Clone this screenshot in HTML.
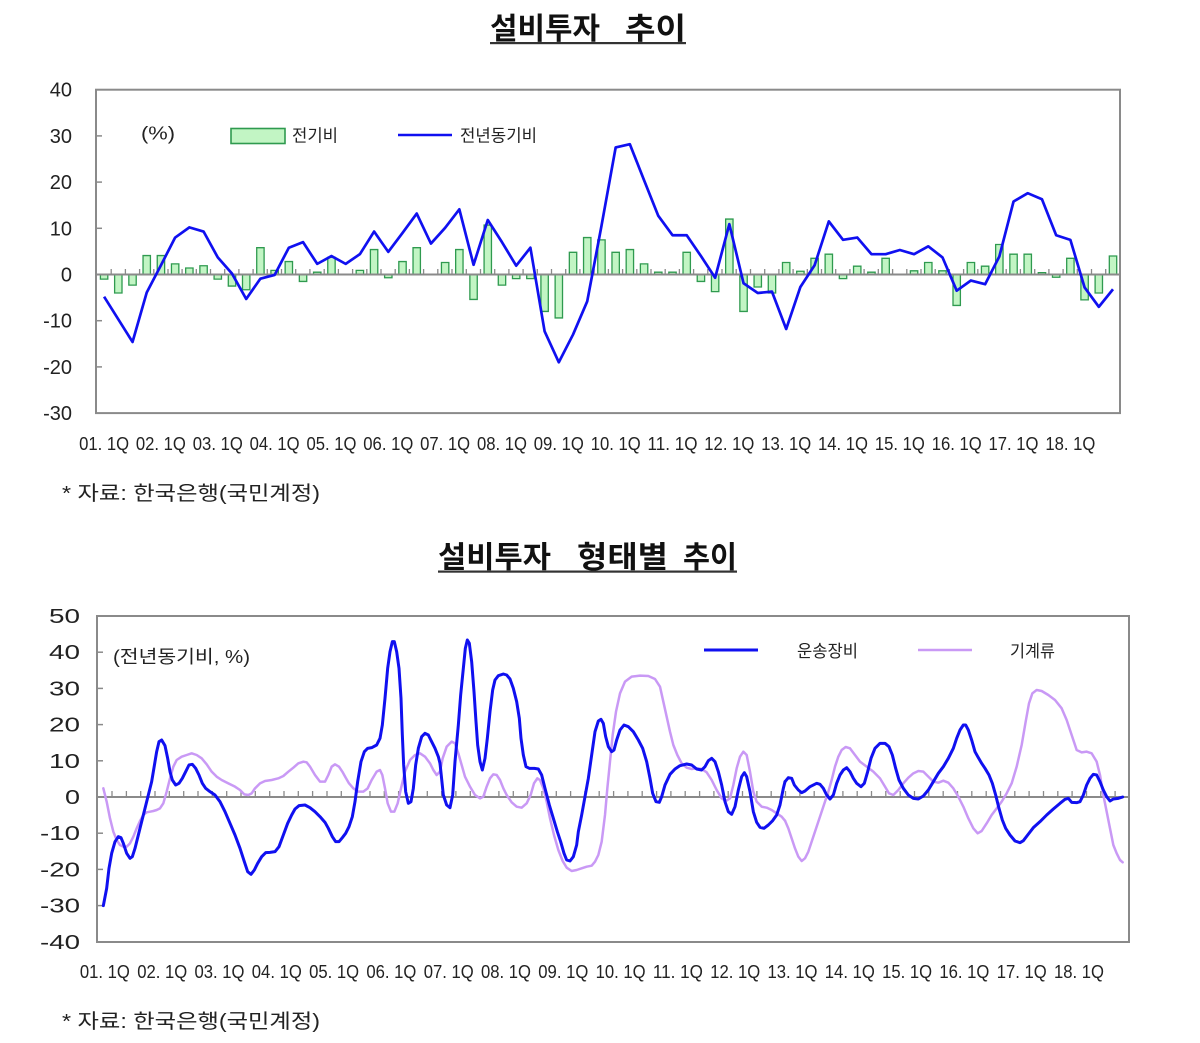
<!DOCTYPE html>
<html>
<head>
<meta charset="utf-8">
<style>
html,body{margin:0;padding:0;background:#fff;}
body{width:1200px;height:1043px;overflow:hidden;}
svg{display:block;}
text{font-family:"Liberation Sans","Noto Sans CJK KR",sans-serif;fill:#222;}
.kr{font-family:"Liberation Sans","Noto Sans CJK KR",sans-serif;}
.t{font-weight:bold;fill:#111;}
.nv{vector-effect:non-scaling-stroke;}
</style>
</head>
<body>
<svg width="1200" height="1043" viewBox="0 0 1200 1043" xmlns="http://www.w3.org/2000/svg">
<rect x="0" y="0" width="1200" height="1043" fill="#fff"/>

<!-- ===== TOP CHART ===== -->
<text class="t kr" x="490" y="39" font-size="30" textLength="110" lengthAdjust="spacingAndGlyphs">설비투자</text>
<text class="t kr" x="625" y="39" font-size="30" textLength="61" lengthAdjust="spacingAndGlyphs">추이</text>
<rect x="490" y="42" width="196" height="2.2" fill="#333"/>

<!-- box -->
<rect x="96" y="89.7" width="1024" height="323.4" fill="none" stroke="#8a8a8a" stroke-width="2"/>

<!-- y labels -->
<g font-size="20" text-anchor="end">
<text x="72" y="96.7">40</text>
<text x="72" y="142.9">30</text>
<text x="72" y="189.1">20</text>
<text x="72" y="235.3">10</text>
<text x="72" y="281.5">0</text>
<text x="72" y="327.7">-10</text>
<text x="72" y="373.9">-20</text>
<text x="72" y="420.1">-30</text>
</g>
<!-- y ticks -->
<g stroke="#8a8a8a" stroke-width="1.5">
<line x1="96" y1="135.9" x2="102" y2="135.9"/>
<line x1="96" y1="182.1" x2="102" y2="182.1"/>
<line x1="96" y1="228.3" x2="102" y2="228.3"/>
<line x1="96" y1="320.7" x2="102" y2="320.7"/>
<line x1="96" y1="366.9" x2="102" y2="366.9"/>
</g>

<!-- legend -->
<text x="141" y="139.5" font-size="18" textLength="34" lengthAdjust="spacingAndGlyphs">(%)</text>
<rect x="231" y="128.5" width="54" height="15" fill="#c2f5c4" stroke="#2f9a4f" stroke-width="1.6"/>
<text class="kr" x="292" y="141.5" font-size="17" textLength="46" lengthAdjust="spacingAndGlyphs">전기비</text>
<line x1="398" y1="135" x2="452" y2="135" stroke="#1010f0" stroke-width="2.6"/>
<text class="kr" x="460" y="141.5" font-size="17" textLength="77" lengthAdjust="spacingAndGlyphs">전년동기비</text>

<!-- bars -->
<g transform="translate(104.1 274.5) scale(14.21 -4.62)" fill="#c2f5c4" stroke="#2f9a4f">
<rect class="nv" stroke-width="1.3" x="-0.26" y="-1" width="0.52" height="1"/>
<rect class="nv" stroke-width="1.3" x="0.74" y="-4" width="0.52" height="4"/>
<rect class="nv" stroke-width="1.3" x="1.74" y="-2.3" width="0.52" height="2.3"/>
<rect class="nv" stroke-width="1.3" x="2.74" y="0" width="0.52" height="4.1"/>
<rect class="nv" stroke-width="1.3" x="3.74" y="0" width="0.52" height="4.1"/>
<rect class="nv" stroke-width="1.3" x="4.74" y="0" width="0.52" height="2.3"/>
<rect class="nv" stroke-width="1.3" x="5.74" y="0" width="0.52" height="1.4"/>
<rect class="nv" stroke-width="1.3" x="6.74" y="0" width="0.52" height="1.9"/>
<rect class="nv" stroke-width="1.3" x="7.74" y="-1" width="0.52" height="1"/>
<rect class="nv" stroke-width="1.3" x="8.74" y="-2.5" width="0.52" height="2.5"/>
<rect class="nv" stroke-width="1.3" x="9.74" y="-3.3" width="0.52" height="3.3"/>
<rect class="nv" stroke-width="1.3" x="10.74" y="0" width="0.52" height="5.8"/>
<rect class="nv" stroke-width="1.3" x="11.74" y="0" width="0.52" height="0.9"/>
<rect class="nv" stroke-width="1.3" x="12.74" y="0" width="0.52" height="2.8"/>
<rect class="nv" stroke-width="1.3" x="13.74" y="-1.5" width="0.52" height="1.5"/>
<rect class="nv" stroke-width="1.3" x="14.74" y="0" width="0.52" height="0.5"/>
<rect class="nv" stroke-width="1.3" x="15.74" y="0" width="0.52" height="3.7"/>
<rect class="nv" stroke-width="1.3" x="17.74" y="0" width="0.52" height="0.9"/>
<rect class="nv" stroke-width="1.3" x="18.74" y="0" width="0.52" height="5.4"/>
<rect class="nv" stroke-width="1.3" x="19.74" y="-0.7" width="0.52" height="0.7"/>
<rect class="nv" stroke-width="1.3" x="20.74" y="0" width="0.52" height="2.8"/>
<rect class="nv" stroke-width="1.3" x="21.74" y="0" width="0.52" height="5.8"/>
<rect class="nv" stroke-width="1.3" x="23.74" y="0" width="0.52" height="2.6"/>
<rect class="nv" stroke-width="1.3" x="24.74" y="0" width="0.52" height="5.4"/>
<rect class="nv" stroke-width="1.3" x="25.74" y="-5.4" width="0.52" height="5.4"/>
<rect class="nv" stroke-width="1.3" x="26.74" y="0" width="0.52" height="10.7"/>
<rect class="nv" stroke-width="1.3" x="27.74" y="-2.3" width="0.52" height="2.3"/>
<rect class="nv" stroke-width="1.3" x="28.74" y="-0.9" width="0.52" height="0.9"/>
<rect class="nv" stroke-width="1.3" x="29.74" y="-0.9" width="0.52" height="0.9"/>
<rect class="nv" stroke-width="1.3" x="30.74" y="-8" width="0.52" height="8"/>
<rect class="nv" stroke-width="1.3" x="31.74" y="-9.4" width="0.52" height="9.4"/>
<rect class="nv" stroke-width="1.3" x="32.74" y="0" width="0.52" height="4.8"/>
<rect class="nv" stroke-width="1.3" x="33.74" y="0" width="0.52" height="8"/>
<rect class="nv" stroke-width="1.3" x="34.74" y="0" width="0.52" height="7.5"/>
<rect class="nv" stroke-width="1.3" x="35.74" y="0" width="0.52" height="4.8"/>
<rect class="nv" stroke-width="1.3" x="36.74" y="0" width="0.52" height="5.4"/>
<rect class="nv" stroke-width="1.3" x="37.74" y="0" width="0.52" height="2.3"/>
<rect class="nv" stroke-width="1.3" x="38.74" y="0" width="0.52" height="0.5"/>
<rect class="nv" stroke-width="1.3" x="39.74" y="0" width="0.52" height="0.5"/>
<rect class="nv" stroke-width="1.3" x="40.74" y="0" width="0.52" height="4.8"/>
<rect class="nv" stroke-width="1.3" x="41.74" y="-1.5" width="0.52" height="1.5"/>
<rect class="nv" stroke-width="1.3" x="42.74" y="-3.7" width="0.52" height="3.7"/>
<rect class="nv" stroke-width="1.3" x="43.74" y="0" width="0.52" height="12"/>
<rect class="nv" stroke-width="1.3" x="44.74" y="-8" width="0.52" height="8"/>
<rect class="nv" stroke-width="1.3" x="45.74" y="-2.7" width="0.52" height="2.7"/>
<rect class="nv" stroke-width="1.3" x="46.74" y="-4" width="0.52" height="4"/>
<rect class="nv" stroke-width="1.3" x="47.74" y="0" width="0.52" height="2.6"/>
<rect class="nv" stroke-width="1.3" x="48.74" y="0" width="0.52" height="0.7"/>
<rect class="nv" stroke-width="1.3" x="49.74" y="0" width="0.52" height="3.5"/>
<rect class="nv" stroke-width="1.3" x="50.74" y="0" width="0.52" height="4.4"/>
<rect class="nv" stroke-width="1.3" x="51.74" y="-0.9" width="0.52" height="0.9"/>
<rect class="nv" stroke-width="1.3" x="52.74" y="0" width="0.52" height="1.8"/>
<rect class="nv" stroke-width="1.3" x="53.74" y="0" width="0.52" height="0.5"/>
<rect class="nv" stroke-width="1.3" x="54.74" y="0" width="0.52" height="3.5"/>
<rect class="nv" stroke-width="1.3" x="56.74" y="0" width="0.52" height="0.8"/>
<rect class="nv" stroke-width="1.3" x="57.74" y="0" width="0.52" height="2.6"/>
<rect class="nv" stroke-width="1.3" x="58.74" y="0" width="0.52" height="0.8"/>
<rect class="nv" stroke-width="1.3" x="59.74" y="-6.7" width="0.52" height="6.7"/>
<rect class="nv" stroke-width="1.3" x="60.74" y="0" width="0.52" height="2.6"/>
<rect class="nv" stroke-width="1.3" x="61.74" y="0" width="0.52" height="1.8"/>
<rect class="nv" stroke-width="1.3" x="62.74" y="0" width="0.52" height="6.5"/>
<rect class="nv" stroke-width="1.3" x="63.74" y="0" width="0.52" height="4.4"/>
<rect class="nv" stroke-width="1.3" x="64.74" y="0" width="0.52" height="4.4"/>
<rect class="nv" stroke-width="1.3" x="65.74" y="0" width="0.52" height="0.4"/>
<rect class="nv" stroke-width="1.3" x="66.74" y="-0.6" width="0.52" height="0.6"/>
<rect class="nv" stroke-width="1.3" x="67.74" y="0" width="0.52" height="3.5"/>
<rect class="nv" stroke-width="1.3" x="68.74" y="-5.5" width="0.52" height="5.5"/>
<rect class="nv" stroke-width="1.3" x="69.74" y="-4" width="0.52" height="4"/>
<rect class="nv" stroke-width="1.3" x="70.74" y="0" width="0.52" height="4"/>
</g>

<!-- zero axis + category ticks -->
<line x1="96" y1="274.5" x2="1120" y2="274.5" stroke="#8a8a8a" stroke-width="2"/>
<path stroke="#8a8a8a" stroke-width="1.3" fill="none" d="M111.2 274.5V269M125.4 274.5V269M139.6 274.5V269M153.8 274.5V269M168 274.5V269M182.1 274.5V269M196.3 274.5V269M210.5 274.5V269M224.7 274.5V269M238.9 274.5V269M253.1 274.5V269M267.3 274.5V269M281.5 274.5V269M295.7 274.5V269M309.9 274.5V269M324.2 274.5V269M338.4 274.5V269M352.6 274.5V269M366.8 274.5V269M381 274.5V269M395.2 274.5V269M409.4 274.5V269M423.6 274.5V269M437.8 274.5V269M452 274.5V269M466.3 274.5V269M480.5 274.5V269M494.7 274.5V269M508.9 274.5V269M523.1 274.5V269M537.3 274.5V269M551.5 274.5V269M565.7 274.5V269M579.9 274.5V269M594.1 274.5V269M608.4 274.5V269M622.6 274.5V269M636.8 274.5V269M651 274.5V269M665.2 274.5V269M679.4 274.5V269M693.6 274.5V269M707.8 274.5V269M722 274.5V269M736.2 274.5V269M750.5 274.5V269M764.7 274.5V269M778.9 274.5V269M793.1 274.5V269M807.3 274.5V269M821.5 274.5V269M835.7 274.5V269M849.9 274.5V269M864.1 274.5V269M878.3 274.5V269M892.6 274.5V269M906.8 274.5V269M921 274.5V269M935.2 274.5V269M949.4 274.5V269M963.6 274.5V269M977.8 274.5V269M992 274.5V269M1006.2 274.5V269M1020.4 274.5V269M1034.7 274.5V269M1048.9 274.5V269M1063.1 274.5V269M1077.3 274.5V269M1091.5 274.5V269M1105.7 274.5V269"/>

<!-- YoY line -->
<g transform="translate(104.1 274.5) scale(14.21 -4.62)">
<polyline class="nv" fill="none" stroke="#1010f0" stroke-width="2.7" stroke-linejoin="round" points="0,-4.8 1,-9.7 2,-14.6 3,-3.9 4,2 5,8 6,10.2 7,9.3 8,3.7 9,0.2 10,-5.3 11,-0.9 12,-0.1 13,5.8 14,7 15,2.3 16,4 17,2.3 18,4.4 19,9.3 20,4.9 21,9 22,13.2 23,6.7 24,10.1 25,14.1 26,2.1 27,11.8 28,7 29,1.9 30,5.8 31,-12.3 32,-19 33,-13 34,-5.8 35,10.5 36,27.5 37,28.2 38,20.4 39,12.7 40,8.5 41,8.5 42,4 43,-0.7 44,10.9 45,-1.9 46,-4 47,-3.7 48,-11.8 49,-2.7 50,2 51,11.5 52,7.5 53,8 54,4.4 55,4.4 56,5.3 57,4.4 58,6.1 59,3.7 60,-3.5 61,-1.3 62,-2.1 63,3.9 64,15.8 65,17.6 66,16.3 67,8.5 68,7.5 69,-2.8 70,-7 71,-3.2"/>
</g>

<!-- x labels -->
<g font-size="18" text-anchor="middle">
<text x="104.1" y="450" textLength="50" lengthAdjust="spacingAndGlyphs">01. 1Q</text>
<text x="160.9" y="450" textLength="50" lengthAdjust="spacingAndGlyphs">02. 1Q</text>
<text x="217.8" y="450" textLength="50" lengthAdjust="spacingAndGlyphs">03. 1Q</text>
<text x="274.6" y="450" textLength="50" lengthAdjust="spacingAndGlyphs">04. 1Q</text>
<text x="331.5" y="450" textLength="50" lengthAdjust="spacingAndGlyphs">05. 1Q</text>
<text x="388.3" y="450" textLength="50" lengthAdjust="spacingAndGlyphs">06. 1Q</text>
<text x="445.1" y="450" textLength="50" lengthAdjust="spacingAndGlyphs">07. 1Q</text>
<text x="502" y="450" textLength="50" lengthAdjust="spacingAndGlyphs">08. 1Q</text>
<text x="558.8" y="450" textLength="50" lengthAdjust="spacingAndGlyphs">09. 1Q</text>
<text x="615.7" y="450" textLength="50" lengthAdjust="spacingAndGlyphs">10. 1Q</text>
<text x="672.5" y="450" textLength="50" lengthAdjust="spacingAndGlyphs">11. 1Q</text>
<text x="729.3" y="450" textLength="50" lengthAdjust="spacingAndGlyphs">12. 1Q</text>
<text x="786.2" y="450" textLength="50" lengthAdjust="spacingAndGlyphs">13. 1Q</text>
<text x="843" y="450" textLength="50" lengthAdjust="spacingAndGlyphs">14. 1Q</text>
<text x="899.9" y="450" textLength="50" lengthAdjust="spacingAndGlyphs">15. 1Q</text>
<text x="956.7" y="450" textLength="50" lengthAdjust="spacingAndGlyphs">16. 1Q</text>
<text x="1013.5" y="450" textLength="50" lengthAdjust="spacingAndGlyphs">17. 1Q</text>
<text x="1070.4" y="450" textLength="50" lengthAdjust="spacingAndGlyphs">18. 1Q</text>
</g>

<text class="kr" x="62" y="500" font-size="20" textLength="258" lengthAdjust="spacingAndGlyphs">*  자료: 한국은행(국민계정)</text>

<!-- ===== BOTTOM CHART ===== -->
<text class="t kr" x="438" y="567.5" font-size="30" textLength="113" lengthAdjust="spacingAndGlyphs">설비투자</text>
<text class="t kr" x="577" y="567.5" font-size="30" textLength="91" lengthAdjust="spacingAndGlyphs">형태별</text>
<text class="t kr" x="683" y="567.5" font-size="30" textLength="54" lengthAdjust="spacingAndGlyphs">추이</text>
<rect x="438" y="570.5" width="299" height="2.2" fill="#333"/>

<rect x="97" y="616" width="1032" height="326" fill="none" stroke="#8a8a8a" stroke-width="2"/>

<g font-size="20" text-anchor="end">
<text x="80" y="623" textLength="31" lengthAdjust="spacingAndGlyphs">50</text>
<text x="80" y="659.2" textLength="31" lengthAdjust="spacingAndGlyphs">40</text>
<text x="80" y="695.4" textLength="31" lengthAdjust="spacingAndGlyphs">30</text>
<text x="80" y="731.6" textLength="31" lengthAdjust="spacingAndGlyphs">20</text>
<text x="80" y="767.8" textLength="31" lengthAdjust="spacingAndGlyphs">10</text>
<text x="80" y="804" textLength="15" lengthAdjust="spacingAndGlyphs">0</text>
<text x="80" y="840.2" textLength="40" lengthAdjust="spacingAndGlyphs">-10</text>
<text x="80" y="876.4" textLength="40" lengthAdjust="spacingAndGlyphs">-20</text>
<text x="80" y="912.6" textLength="40" lengthAdjust="spacingAndGlyphs">-30</text>
<text x="80" y="948.8" textLength="40" lengthAdjust="spacingAndGlyphs">-40</text>
</g>
<g stroke="#8a8a8a" stroke-width="1.5">
<line x1="97" y1="652.2" x2="103" y2="652.2"/>
<line x1="97" y1="688.4" x2="103" y2="688.4"/>
<line x1="97" y1="724.6" x2="103" y2="724.6"/>
<line x1="97" y1="760.8" x2="103" y2="760.8"/>
<line x1="97" y1="833.2" x2="103" y2="833.2"/>
<line x1="97" y1="869.4" x2="103" y2="869.4"/>
<line x1="97" y1="905.6" x2="103" y2="905.6"/>
</g>

<!-- legend -->
<text class="kr" x="113" y="663" font-size="18" textLength="137" lengthAdjust="spacingAndGlyphs">(전년동기비, %)</text>
<line x1="704" y1="650" x2="758" y2="650" stroke="#1010f0" stroke-width="3"/>
<text class="kr" x="797" y="657" font-size="17" textLength="61" lengthAdjust="spacingAndGlyphs">운송장비</text>
<line x1="918" y1="650" x2="972" y2="650" stroke="#c999f5" stroke-width="2.5"/>
<text class="kr" x="1010" y="657" font-size="17" textLength="45" lengthAdjust="spacingAndGlyphs">기계류</text>

<!-- zero axis -->
<line x1="97" y1="797" x2="1129" y2="797" stroke="#8a8a8a" stroke-width="2"/>
<path stroke="#8a8a8a" stroke-width="1.3" fill="none" d="M112 797V791M126.4 797V791M140.7 797V791M155 797V791M169.3 797V791M183.7 797V791M198 797V791M212.3 797V791M226.7 797V791M241 797V791M255.3 797V791M269.7 797V791M284 797V791M298.3 797V791M312.6 797V791M327 797V791M341.3 797V791M355.6 797V791M370 797V791M384.3 797V791M398.6 797V791M413 797V791M427.3 797V791M441.6 797V791M455.9 797V791M470.3 797V791M484.6 797V791M498.9 797V791M513.3 797V791M527.6 797V791M541.9 797V791M556.3 797V791M570.6 797V791M584.9 797V791M599.2 797V791M613.6 797V791M627.9 797V791M642.2 797V791M656.6 797V791M670.9 797V791M685.2 797V791M699.6 797V791M713.9 797V791M728.2 797V791M742.5 797V791M756.9 797V791M771.2 797V791M785.5 797V791M799.9 797V791M814.2 797V791M828.5 797V791M842.9 797V791M857.2 797V791M871.5 797V791M885.8 797V791M900.2 797V791M914.5 797V791M928.8 797V791M943.2 797V791M957.5 797V791M971.8 797V791M986.2 797V791M1000.5 797V791M1014.8 797V791M1029.1 797V791M1043.5 797V791M1057.8 797V791M1072.1 797V791M1086.5 797V791M1100.8 797V791M1115.1 797V791"/>

<!-- purple (기계류) -->
<g fill="none" stroke="#c999f5" stroke-width="2.5" stroke-linejoin="round" stroke-linecap="round">
<g transform="translate(95 615) scale(0.333333)">
<polyline class="nv" points="25,520 35,560 45,610 55,650 65,675 75,690 85,695 95,695 105,685 115,665 125,640 135,618 145,600 155,592 165,590 175,588 185,585 195,580 205,565 215,530 225,490 235,455 245,435 260,425 275,420 290,415 305,420 320,430 335,448 350,470 365,485 380,495 400,505 420,515 435,525 448,538 460,540 470,535 480,520 495,505 510,498 530,495 550,490 565,483 580,470 595,458 610,445 625,440 635,442 645,455 660,480 675,500 690,500 700,480 710,455 720,448 732,455 742,470 752,488 762,505 775,520 790,530 805,530 818,520 830,495 845,470 855,465 862,480 870,520 878,565 888,590 898,590 908,565 918,520 930,470 945,435 960,420 975,415 990,425 1005,445 1015,465 1025,480 1035,470"/>
</g>
<g transform="translate(440 615) scale(0.333333)">
<polyline class="nv" points="0,470 8,430 20,395 35,380 45,385 55,415 65,450 75,485 90,515 105,540 120,550 130,545 140,515 150,490 160,478 170,480 180,495 190,520 200,540 215,562 230,575 245,578 260,565 272,540 282,505 292,490 300,495 310,520 320,560 330,610 342,660 355,705 368,738 380,758 395,768 410,765 425,760 440,755 455,752 465,740 475,720 485,680 495,600 502,520 510,440 518,360 528,290 540,235 555,200 575,185 600,182 625,183 645,192 660,215 670,260 680,305 690,350 700,390 712,420 725,445 740,458 755,462 770,460 785,462 800,472 815,495 830,525 845,550 858,558 870,550 880,510 890,460 900,425 910,410 920,420 930,470 940,530 950,560 965,575 980,578 995,585 1010,595 1025,605 1035,617"/>
</g>
<g transform="translate(785 615) scale(0.333333)">
<polyline class="nv" points="0,617 10,640 20,670 30,700 40,725 50,738 60,730 70,710 80,680 90,650 100,620 110,590 120,560 130,530 140,495 150,455 160,425 170,405 182,396 195,400 210,420 225,440 245,455 265,470 285,490 300,515 312,535 325,540 340,525 355,505 370,488 385,475 400,468 415,470 430,485 445,500 460,503 475,497 490,503 505,520 520,545 535,575 550,610 565,640 578,655 590,648 605,625 620,600 635,580 650,560 665,535 680,505 695,455 710,390 722,320 732,265 742,235 755,225 770,228 790,240 810,255 830,280 845,315 860,360 875,405 890,412 905,410 920,415 935,440 945,480 955,540 965,590 975,640 985,690 995,715 1005,735 1013,742"/>
</g>
</g>

<!-- blue (운송장비) -->
<g fill="none" stroke="#1010f0" stroke-width="3" stroke-linejoin="round" stroke-linecap="round">
<g transform="translate(95 615) scale(0.333333)">
<polyline class="nv" points="25,872 35,820 42,760 50,715 60,680 70,665 78,668 85,685 95,715 105,730 112,725 120,700 130,660 140,620 150,580 160,540 170,500 180,440 185,410 192,380 200,375 210,392 218,430 225,470 232,495 242,510 252,505 262,490 272,470 282,450 292,448 302,460 312,480 322,505 332,520 345,530 360,540 375,560 390,590 405,625 420,660 435,700 448,740 458,770 468,778 478,765 488,745 500,725 512,713 525,712 540,710 552,695 565,660 578,625 590,600 600,582 612,572 630,570 645,578 660,590 675,605 690,622 700,640 712,665 722,680 732,680 742,668 752,655 762,635 772,605 780,560 788,500 798,440 808,410 818,400 830,398 845,390 855,370 862,330 870,250 878,160 885,110 892,80 898,80 905,110 912,160 918,250 922,360 926,450 932,530 940,565 948,560 955,520 962,450 970,400 980,365 990,355 1000,360 1010,380 1020,400 1030,425 1035,445"/>
</g>
<g transform="translate(440 615) scale(0.333333)">
<polyline class="nv" points="0,445 10,540 20,570 30,578 38,540 45,440 55,330 62,240 70,160 76,100 82,75 88,85 95,140 102,230 108,320 113,390 120,440 127,465 135,430 142,370 150,290 158,225 165,195 175,182 190,177 200,180 210,192 220,220 230,260 238,310 243,370 250,420 258,455 268,460 283,460 295,462 305,480 315,520 328,570 340,610 352,650 362,680 372,715 380,735 390,738 400,725 410,690 415,650 425,600 435,545 445,490 455,420 465,350 475,318 483,313 490,325 497,365 505,395 515,410 522,405 530,375 540,345 552,330 565,335 580,350 595,375 608,400 620,440 630,490 638,535 648,560 658,562 665,545 675,510 690,478 705,462 720,452 740,447 755,450 770,462 785,465 795,455 805,437 815,430 825,440 835,470 845,510 855,560 865,590 875,598 885,575 895,525 905,485 913,473 920,485 930,530 940,590 950,622 960,637 972,640 985,630 998,617 1010,600 1020,570 1030,520 1035,500"/>
</g>
<g transform="translate(785 615) scale(0.333333)">
<polyline class="nv" points="0,500 10,488 20,490 28,510 40,525 50,533 60,528 75,515 95,505 105,508 115,520 125,540 135,552 145,540 155,505 165,480 175,465 185,458 195,470 205,490 215,505 228,515 238,505 248,470 258,430 270,400 285,385 300,385 312,395 322,420 332,460 342,495 355,520 370,540 385,550 400,552 415,543 430,525 445,500 460,475 475,455 490,430 505,400 515,370 525,345 535,330 542,330 550,345 560,375 570,410 580,428 590,445 600,460 612,480 622,505 632,540 642,580 652,615 662,640 675,660 690,678 705,683 715,677 728,660 745,638 765,620 785,600 805,582 825,565 840,553 850,550 860,562 875,563 885,560 895,540 905,510 915,490 925,478 935,480 945,500 955,525 965,545 975,558 985,552 1000,550 1013,546"/>
</g>
</g>

<!-- bottom x labels -->
<g font-size="18" text-anchor="middle">
<text x="104.9" y="978" textLength="50" lengthAdjust="spacingAndGlyphs">01. 1Q</text>
<text x="162.2" y="978" textLength="50" lengthAdjust="spacingAndGlyphs">02. 1Q</text>
<text x="219.5" y="978" textLength="50" lengthAdjust="spacingAndGlyphs">03. 1Q</text>
<text x="276.8" y="978" textLength="50" lengthAdjust="spacingAndGlyphs">04. 1Q</text>
<text x="334.1" y="978" textLength="50" lengthAdjust="spacingAndGlyphs">05. 1Q</text>
<text x="391.4" y="978" textLength="50" lengthAdjust="spacingAndGlyphs">06. 1Q</text>
<text x="448.7" y="978" textLength="50" lengthAdjust="spacingAndGlyphs">07. 1Q</text>
<text x="506" y="978" textLength="50" lengthAdjust="spacingAndGlyphs">08. 1Q</text>
<text x="563.3" y="978" textLength="50" lengthAdjust="spacingAndGlyphs">09. 1Q</text>
<text x="620.6" y="978" textLength="50" lengthAdjust="spacingAndGlyphs">10. 1Q</text>
<text x="677.9" y="978" textLength="50" lengthAdjust="spacingAndGlyphs">11. 1Q</text>
<text x="735.2" y="978" textLength="50" lengthAdjust="spacingAndGlyphs">12. 1Q</text>
<text x="792.5" y="978" textLength="50" lengthAdjust="spacingAndGlyphs">13. 1Q</text>
<text x="849.8" y="978" textLength="50" lengthAdjust="spacingAndGlyphs">14. 1Q</text>
<text x="907.1" y="978" textLength="50" lengthAdjust="spacingAndGlyphs">15. 1Q</text>
<text x="964.4" y="978" textLength="50" lengthAdjust="spacingAndGlyphs">16. 1Q</text>
<text x="1021.7" y="978" textLength="50" lengthAdjust="spacingAndGlyphs">17. 1Q</text>
<text x="1079" y="978" textLength="50" lengthAdjust="spacingAndGlyphs">18. 1Q</text>
</g>

<text class="kr" x="62" y="1028" font-size="20" textLength="258" lengthAdjust="spacingAndGlyphs">*  자료: 한국은행(국민계정)</text>
</svg>
</body>
</html>
